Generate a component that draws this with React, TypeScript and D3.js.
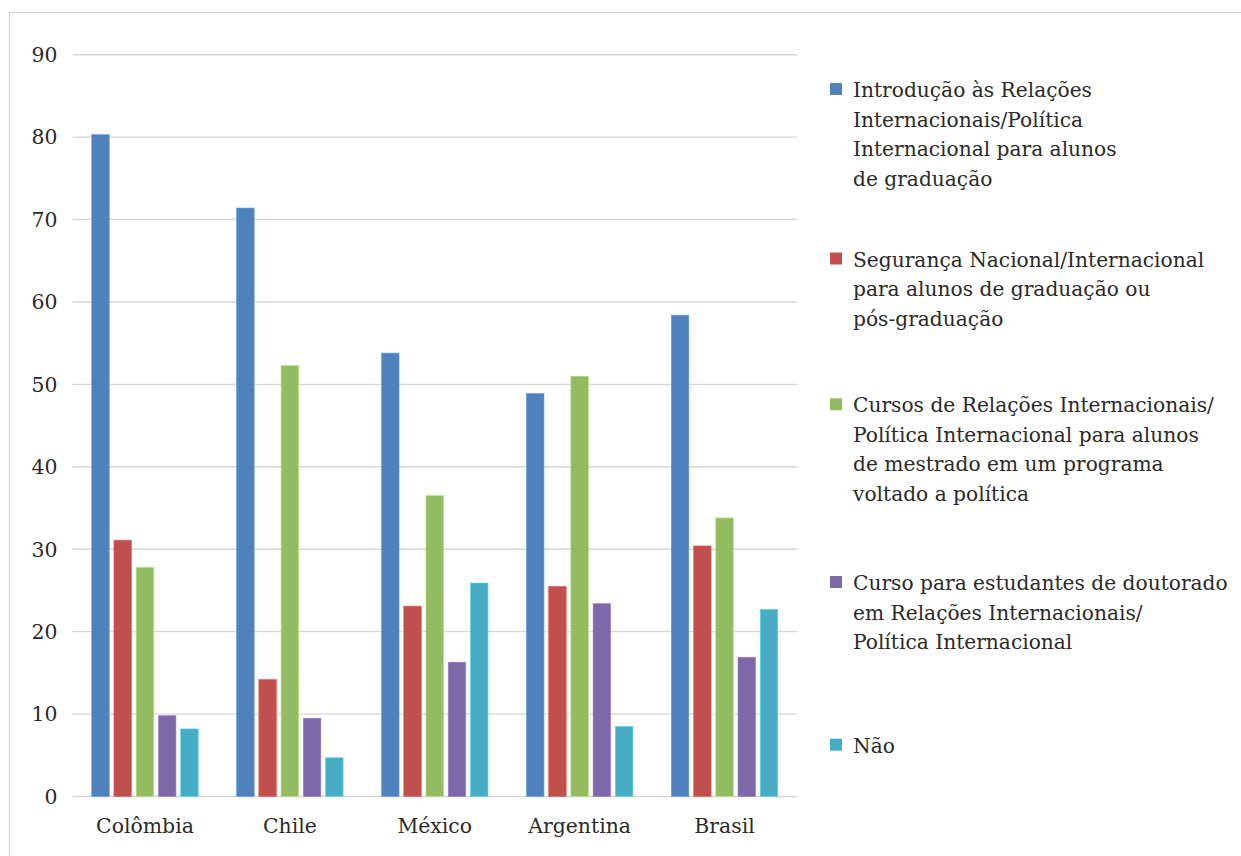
import React from "react";
import * as d3 from "d3";

// Countries on the x axis
const countries = ["Colômbia", "Chile", "México", "Argentina", "Brasil"];

// Legend labels, pre-wrapped into lines
const seriesNames = [
  ["Introdução às Relações", "Internacionais/Política", "Internacional para alunos", "de graduação"],
  ["Segurança Nacional/Internacional", "para alunos de graduação ou", "pós-graduação"],
  ["Cursos de Relações Internacionais/", "Política Internacional para alunos", "de mestrado em um programa", "voltado a política"],
  ["Curso para estudantes de doutorado", "em Relações Internacionais/", "Política Internacional"],
  ["Não"],
];

// Values per series, in the order of `countries`
const introducao = [80.3, 71.4, 53.8, 48.9, 58.4];
const seguranca = [31.1, 14.2, 23.1, 25.5, 30.4];
const mestrado = [27.8, 52.3, 36.5, 51.0, 33.8];
const doutorado = [9.8, 9.5, 16.3, 23.4, 16.9];
const nao = [8.2, 4.7, 25.9, 8.5, 22.7];

const seriesValues = [introducao, seguranca, mestrado, doutorado, nao];
const colors = ["#4F81BD", "#C0504D", "#93BB61", "#7F68A7", "#47ADC4"];

const yTicks = [0, 10, 20, 30, 40, 50, 60, 70, 80, 90];

const W = 1241;
const H = 856;
const plot = { left: 72.5, right: 797, top: 54.7, bottom: 796.5 };
const FONT = "'DejaVu Serif', serif";
const TEXT = "#2a2a2a";
const GRID = "#D6D6D6";

// Legend layout
const legendX = 830;
const legendTextX = 853;
const legendLine = 29.5;
const legendFirstBaselines = [97, 266.5, 412.3, 590, 752.7];

export default function App() {
  const x0 = d3.scaleBand<string>().domain(countries).range([plot.left, plot.right]).padding(0);
  const groupPad = 19.2;
  const x1 = d3
    .scaleBand<number>()
    .domain(d3.range(seriesValues.length))
    .range([groupPad, x0.bandwidth() - groupPad])
    .paddingInner(0.21)
    .paddingOuter(0);
  const y = d3.scaleLinear().domain([0, 90]).range([plot.bottom, plot.top]);

  return (
    <svg
      width={W}
      height={H}
      viewBox={`0 0 ${W} ${H}`}
      style={{ position: "absolute", left: 0, top: 0, display: "block", background: "#fff" }}
    >
      {/* chart frame */}
      <rect x={9.5} y={12.5} width={W + 20} height={H + 20} fill="#fff" stroke="#D0D0D0" strokeWidth={1.2} />

      {/* gridlines and y tick labels */}
      {yTicks.map((t) => (
        <g key={t}>
          <line x1={plot.left} x2={plot.right} y1={y(t)} y2={y(t)} stroke={GRID} strokeWidth={1.4} />
          <text
            x={57.5}
            y={y(t)}
            dy="0.36em"
            textAnchor="end"
            fontFamily={FONT}
            fontSize={20.4}
            fill={TEXT}
          >
            {t}
          </text>
        </g>
      ))}

      {/* bars */}
      {countries.map((c, ci) => (
        <g key={c} transform={`translate(${x0(c)},0)`}>
          {seriesValues.map((vals, si) => (
            <rect
              key={si}
              x={x1(si)}
              y={y(vals[ci])}
              width={x1.bandwidth()}
              height={y(0) - y(vals[ci])}
              fill={colors[si]}
              stroke={d3.color(colors[si])!.brighter(0.6).formatHex()}
              strokeWidth={0.6}
            />
          ))}
        </g>
      ))}

      {/* category labels */}
      {countries.map((c) => (
        <text
          key={c}
          x={(x0(c) as number) + x0.bandwidth() / 2}
          y={833}
          textAnchor="middle"
          fontFamily={FONT}
          fontSize={20.4}
          fill={TEXT}
        >
          {c}
        </text>
      ))}

      {/* legend */}
      {seriesNames.map((lines, si) => (
        <g key={si}>
          <rect x={legendX} y={legendFirstBaselines[si] - 14} width={12} height={12} fill={colors[si]} />
          <text fontFamily={FONT} fontSize={20.2} fill={TEXT}>
            {lines.map((ln, li) => (
              <tspan key={li} x={legendTextX} y={legendFirstBaselines[si] + li * legendLine}>
                {ln}
              </tspan>
            ))}
          </text>
        </g>
      ))}
    </svg>
  );
}
